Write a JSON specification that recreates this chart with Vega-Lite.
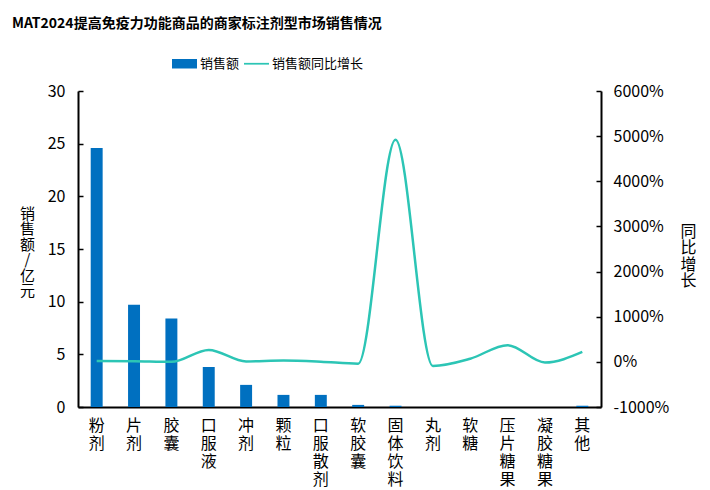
{
  "$schema": "https://vega.github.io/schema/vega-lite/v6.json",
  "width": 523,
  "height": 316,
  "autosize": {"type": "none"},
  "padding": {"left": 78, "top": 91, "right": 109, "bottom": 83},
  "background": "white",
  "title": {
    "text": "MAT2024提高免疫力功能商品的商家标注剂型市场销售情况",
    "anchor": "start",
    "frame": "group",
    "dx": -66,
    "offset": 20,
    "font": "Noto Sans CJK SC",
    "fontSize": 14,
    "fontWeight": "bold",
    "color": "#000000"
  },
  "config": {
    "view": {"stroke": null},
    "font": "Noto Sans CJK SC",
    "axis": {"grid": false, "labelColor": "#000000", "titleColor": "#000000", "labelFont": "Noto Sans CJK SC", "titleFont": "Noto Sans CJK SC"},
    "legend": {"labelFont": "Noto Sans CJK SC"}
  },
  "data": {
    "values": [
      {"cat": "粉剂", "sales": 24.6, "growth": 20},
      {"cat": "片剂", "sales": 9.7, "growth": 15},
      {"cat": "胶囊", "sales": 8.4, "growth": 0},
      {"cat": "口服液", "sales": 3.8, "growth": 265},
      {"cat": "冲剂", "sales": 2.1, "growth": 10},
      {"cat": "颗粒", "sales": 1.15, "growth": 30},
      {"cat": "口服散剂", "sales": 1.15, "growth": 5},
      {"cat": "软胶囊", "sales": 0.2, "growth": -40},
      {"cat": "固体饮料", "sales": 0.12, "growth": 4920},
      {"cat": "丸剂", "sales": 0, "growth": -90},
      {"cat": "软糖", "sales": 0, "growth": 70},
      {"cat": "压片糖果", "sales": 0, "growth": 370},
      {"cat": "凝胶糖果", "sales": 0, "growth": -15},
      {"cat": "其他", "sales": 0.12, "growth": 220}
    ]
  },
  "encoding": {
    "x": {
      "field": "cat",
      "type": "nominal",
      "sort": null,
      "scale": {"paddingInner": 0.68, "paddingOuter": 0.34},
      "axis": {
        "title": null,
        "labelAngle": 0,
        "labelExpr": "split(datum.label, '')",
        "ticks": false,
        "domainColor": "#000000",
        "domainWidth": 2,
        "labelFontSize": 16,
        "labelLineHeight": 18,
        "labelPadding": 10,
        "labelBaseline": "top",
        "labelAlign": "center"
      }
    }
  },
  "layer": [
    {
      "mark": {"type": "bar", "color": "#0070C0"},
      "encoding": {
        "y": {
          "field": "sales",
          "type": "quantitative",
          "scale": {"domain": [0, 30], "nice": false},
          "axis": {
            "orient": "left",
            "values": [0, 5, 10, 15, 20, 25, 30],
            "tickSize": -5,
            "tickColor": "#000000",
            "tickWidth": 1.5,
            "domainColor": "#000000",
            "domainWidth": 2,
            "labelFontSize": 16,
            "labelPadding": 18,
            "title": ["销", "售", "额", "/", "亿", "元"],
            "titleAngle": 0,
            "titleFontSize": 15,
            "titleFontWeight": "normal",
            "titleLineHeight": 15.5,
            "titleAlign": "center",
            "titleBaseline": "top",
            "titleX": -51,
            "titleY": 115
          }
        },
        "color": {
          "datum": "销售额",
          "type": "nominal",
          "scale": {"domain": ["销售额", "销售额同比增长"], "range": ["#0070C0", "#2CC5B5"]},
          "legend": {
            "title": null,
            "orient": "none",
            "direction": "horizontal",
            "legendX": 94,
            "legendY": -40,
            "symbolSize": 625,
            "labelFontSize": 13,
            "labelColor": "#000000",
            "labelOffset": 3,
            "columnPadding": 4,
            "encode": {
              "symbols": {
                "update": {
                  "shape": {"signal": "datum.label == '销售额' ? 'M-1,-0.38H1V0.38H-1Z' : 'M-1,-0.07H1V0.07H-1Z'"},
                  "fill": {"signal": "datum.label == '销售额' ? '#0070C0' : '#2CC5B5'"},
                  "stroke": {"value": "transparent"},
                  "strokeWidth": {"value": 0},
                  "opacity": {"value": 1},
                  "fillOpacity": {"value": 1}
                }
              }
            }
          }
        }
      }
    },
    {
      "mark": {"type": "line", "interpolate": "monotone", "strokeWidth": 2.5, "color": "#2CC5B5"},
      "encoding": {
        "y": {
          "field": "growth",
          "type": "quantitative",
          "scale": {"domain": [-1000, 6000], "nice": false},
          "axis": {
            "orient": "right",
            "values": [-1000, 0, 1000, 2000, 3000, 4000, 5000, 6000],
            "labelExpr": "datum.value + '%'",
            "tickSize": -5,
            "tickColor": "#000000",
            "tickWidth": 1.5,
            "domainColor": "#000000",
            "domainWidth": 2,
            "labelFontSize": 16,
            "labelPadding": 17,
            "title": ["同", "比", "增", "长"],
            "titleAngle": 0,
            "titleFontSize": 16,
            "titleFontWeight": "normal",
            "titleLineHeight": 16.5,
            "titleAlign": "center",
            "titleBaseline": "top",
            "titleX": 87,
            "titleY": 132
          }
        },
        "color": {"datum": "销售额同比增长", "type": "nominal"}
      }
    }
  ],
  "resolve": {"scale": {"y": "independent"}}
}
